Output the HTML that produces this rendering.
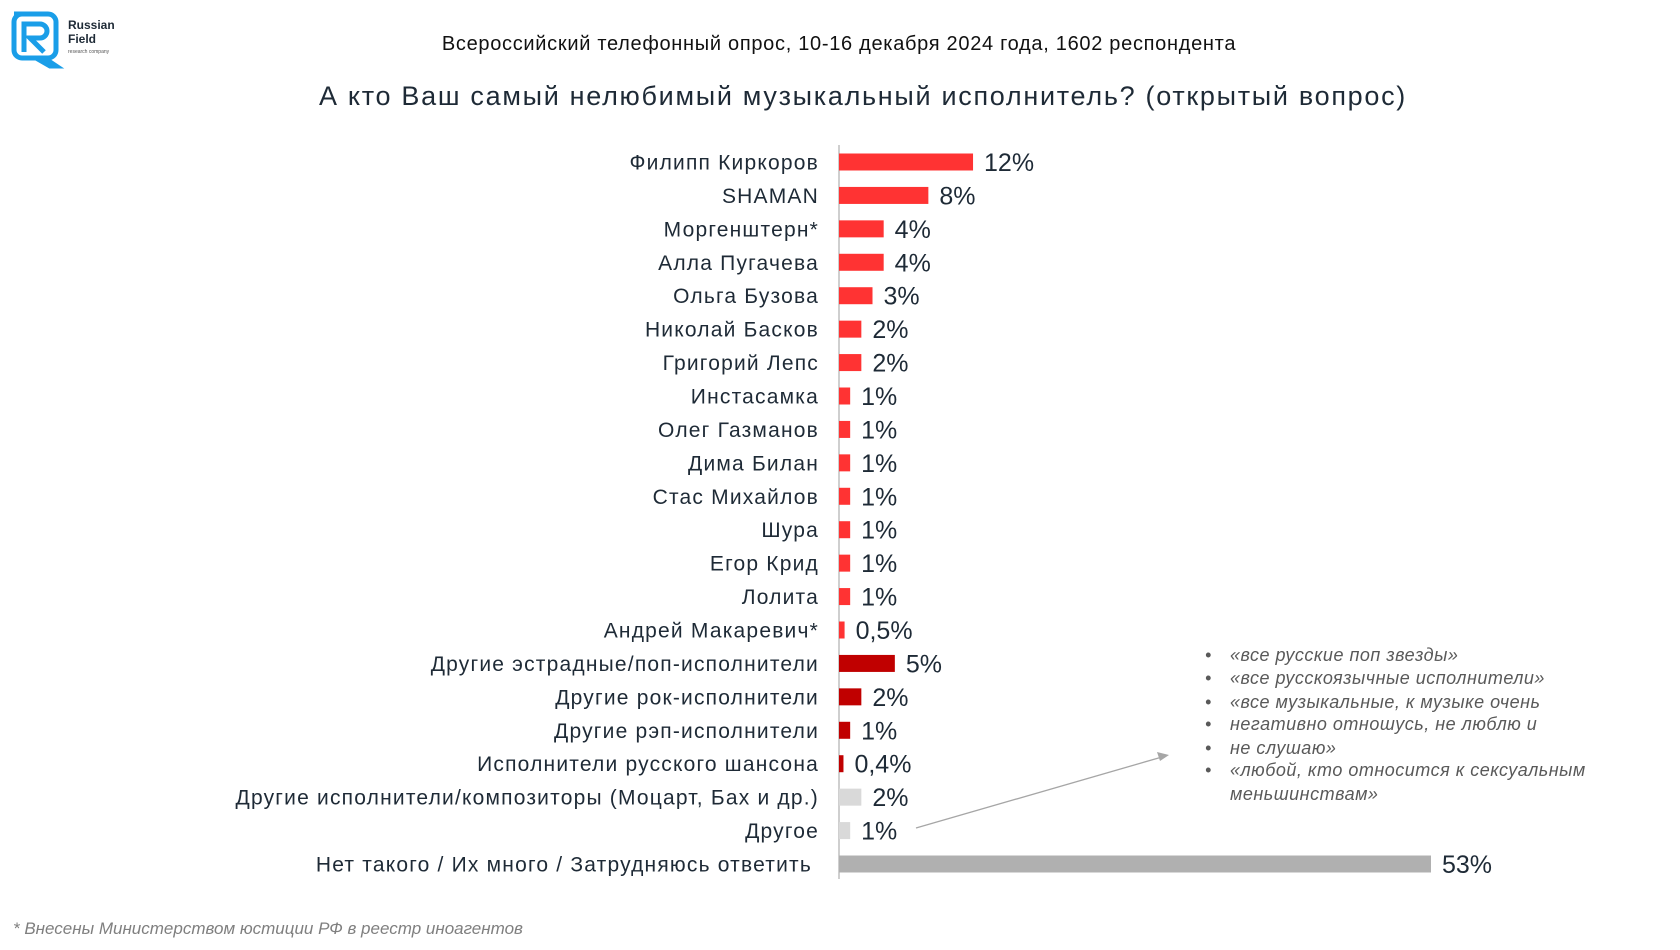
<!DOCTYPE html>
<html><head><meta charset="utf-8"><style>
html,body{margin:0;padding:0;background:#fff;}
body{width:1680px;height:945px;overflow:hidden;font-family:"Liberation Sans","DejaVu Sans",sans-serif;}
</style></head><body>
<svg id="chart" width="1680" height="945" viewBox="0 0 1680 945" xmlns="http://www.w3.org/2000/svg" font-family="Liberation Sans, DejaVu Sans, sans-serif">
  <g>
    <path d="M14 14 h34 a8 8 0 0 1 8 8 v28 a8 8 0 0 1 -8 8 h-4 l12 8 h-6 l-14 -8 h-14 a8 8 0 0 1 -8 -8 v-28 a8 8 0 0 1 8 -8z" fill="none" stroke="#1a9ee8" stroke-width="5"/>
    <path d="M24 52 v-28 h16 a7 7 0 0 1 0 14 h-10 l14 14" fill="none" stroke="#1a9ee8" stroke-width="5"/>
    <text x="68" y="29" font-size="12" font-weight="bold" fill="#1e2a36">Russian</text>
    <text x="68" y="43" font-size="12" font-weight="bold" fill="#1e2a36">Field</text>
    <text x="68" y="53" font-size="5" fill="#555">research company</text>
  </g>
  <text x="839" y="50" font-size="20" letter-spacing="0.7" text-anchor="middle" fill="#111">Всероссийский телефонный опрос, 10-16 декабря 2024 года, 1602 респондента</text>
  <text x="863" y="105" font-size="27" letter-spacing="1.7" text-anchor="middle" fill="#1e2a36">А кто Ваш самый нелюбимый музыкальный исполнитель? (открытый вопрос)</text>
  <line x1="839" y1="145" x2="839" y2="879" stroke="#bfbfbf" stroke-width="1.5"/>
  <g id="bars"></g>
  <g font-size="18" font-style="italic" fill="#595959" letter-spacing="0.5">
    <text x="1205" y="661">•</text><text x="1230" y="661">«все русские поп звезды»</text>
    <text x="1205" y="684">•</text><text x="1230" y="684">«все русскоязычные исполнители»</text>
    <text x="1205" y="708">•</text><text x="1230" y="708">«все музыкальные, к музыке очень</text>
    <text x="1205" y="730">•</text><text x="1230" y="730">негативно отношусь, не люблю и</text>
    <text x="1205" y="754">•</text><text x="1230" y="754">не слушаю»</text>
    <text x="1205" y="776">•</text><text x="1230" y="776">«любой, кто относится к сексуальным</text>
    <text x="1230" y="800">меньшинствам»</text>
  </g>
  <g>
    <line x1="916" y1="828" x2="1162" y2="757" stroke="#a6a6a6" stroke-width="1.3"/>
    <path d="M1169 755 l-12 -3 l3 9z" fill="#a6a6a6"/>
  </g>
  <text x="13" y="934" font-size="17" font-style="italic" fill="#7f7f7f">* Внесены Министерством юстиции РФ в реестр иноагентов</text>
</svg>
<script>
const categories = ["Филипп Киркоров","SHAMAN","Моргенштерн*","Алла Пугачева","Ольга Бузова","Николай Басков","Григорий Лепс","Инстасамка","Олег Газманов","Дима Билан","Стас Михайлов","Шура","Егор Крид","Лолита","Андрей Макаревич*","Другие эстрадные/поп-исполнители","Другие рок-исполнители","Другие рэп-исполнители","Исполнители русского шансона","Другие исполнители/композиторы (Моцарт, Бах и др.)","Другое","Нет такого / Их много / Затрудняюсь ответить"];
const values = [12,8,4,4,3,2,2,1,1,1,1,1,1,1,0.5,5,2,1,0.4,2,1,53];
const valueLabels = ["12%","8%","4%","4%","3%","2%","2%","1%","1%","1%","1%","1%","1%","1%","0,5%","5%","2%","1%","0,4%","2%","1%","53%"];
const groups = ["artist","artist","artist","artist","artist","artist","artist","artist","artist","artist","artist","artist","artist","artist","artist","other-genre","other-genre","other-genre","other-genre","misc","misc","none"];
const colors = {artist:"#ff3333","other-genre":"#c00000",misc:"#d9d9d9",none:"#b0b0b0"};
const NS="http://www.w3.org/2000/svg";
const x0=839, pxPer=592/53;
const yTop=162, step=(864-162)/(categories.length-1);
const xs=v=>v*pxPer;
const ys=i=>yTop+i*step;
const g=document.getElementById('bars');
categories.forEach((c,i)=>{
  const y=ys(i);
  const r=document.createElementNS(NS,'rect');
  
  
  r.setAttribute('x',x0);r.setAttribute('y',y-8.5);
  r.setAttribute('width',xs(values[i]));r.setAttribute('height',17);
  r.setAttribute('fill',colors[groups[i]]);
  g.appendChild(r);
  const t=document.createElementNS(NS,'text');
  
  
  const last=i===categories.length-1;
  t.setAttribute('x',last?812:819);t.setAttribute('y',y+7.5);
  t.setAttribute('text-anchor','end');t.setAttribute('font-size','21');t.setAttribute('fill','#1e2a36');
  t.setAttribute('letter-spacing','1.2');
  t.textContent=c;g.appendChild(t);
  const v=document.createElementNS(NS,'text');
  
  
  v.setAttribute('x',x0+xs(values[i])+11);v.setAttribute('y',y+9);
  v.setAttribute('font-size','25');v.setAttribute('fill','#1e2a36');
  v.textContent=valueLabels[i];g.appendChild(v);
});
</script>
</body></html>
